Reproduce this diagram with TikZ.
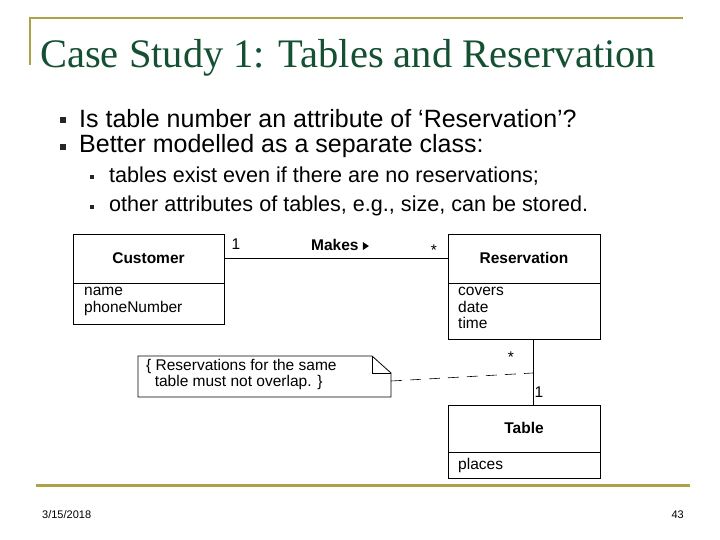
\documentclass[tikz,border=0pt]{standalone}
\usepackage{fontspec}
\setmainfont{Liberation Sans}
\newfontfamily\titlefont{Liberation Serif}
\definecolor{gold}{RGB}{176,160,72}
\definecolor{tgreen}{RGB}{20,80,50}
\begin{document}
\begin{tikzpicture}[x=1pt,y=-1pt,
  cls/.style={draw,line width=0.8pt},
  lbl/.style={font=\fontsize{15.5}{16.5}\selectfont,inner sep=0pt},
  bul/.style={fill=black!85,minimum size=4.5pt,inner sep=0pt},
  txt/.style={anchor=west,inner sep=0pt}]
\useasboundingbox (0,0) rectangle (720,540);
\fill[white] (0,0) rectangle (720,540);
\draw[gold,line width=2pt] (30,18) -- (683,18);
\draw[gold,line width=2pt] (30,17) -- (30,65);
\draw[gold,line width=3pt] (36,485) -- (690,485);
\node[txt,anchor=base west,text=tgreen,font=\titlefont\fontsize{40.5}{44}\selectfont] (title) at (40,68) {Case Study 1: Tables and Reservation};
\node[bul,minimum size=6pt] (b1) at (63,120) {};
\node[txt,font=\fontsize{25}{28}\selectfont] (t1) at (79,119) {Is table number an attribute of ‘Reservation’?};
\node[bul,minimum size=6pt] (b2) at (63,147) {};
\node[txt,font=\fontsize{25}{28}\selectfont] (t2) at (79,146) {Better modelled as a separate class:};
\node[bul] (b3) at (92,177) {};
\node[txt,font=\fontsize{21.6}{24}\selectfont] (t3) at (109,176) {tables exist even if there are no reservations;};
\node[bul] (b4) at (92,207) {};
\node[txt,font=\fontsize{21.6}{24}\selectfont] (t4) at (109,206) {other attributes of tables, e.g., size, can be stored.};
% Customer
\draw[cls] (73,234) rectangle (224,324); \draw[cls] (73,283) -- (224,283);
\node[lbl,font=\bfseries\fontsize{15.5}{16.5}\selectfont] (cn) at (148.5,258) {Customer};
\node[lbl,anchor=north west,align=left] (ca) at (84,287) {name\\phoneNumber};
\coordinate (ce) at (224,258);
% Reservation
\draw[cls] (448,234) rectangle (600,339); \draw[cls] (448,283) -- (600,283);
\node[lbl,font=\bfseries\fontsize{15.5}{16.5}\selectfont] (rn) at (524,258) {Reservation};
\node[lbl,anchor=north west,align=left] (ra) at (458,287) {covers\\date\\time};
\coordinate (rw) at (448,258);
\coordinate (rs) at (533,339);
% Table
\draw[cls] (448,405) rectangle (600,478); \draw[cls] (448,452) -- (600,452);
\node[lbl,font=\bfseries\fontsize{15.5}{16.5}\selectfont] (tn) at (524,428) {Table};
\node[lbl,anchor=west] (ta) at (458,465) {places};
\coordinate (tt) at (533,405);
\draw[line width=0.6pt] (ce) -- (rw);
\draw[line width=0.6pt] (rs) -- (tt);
\node[lbl] (m1) at (236,244) {1};
\node[lbl,font=\bfseries\fontsize{15.5}{16.5}\selectfont] (mk) at (340,245) {Makes \raisebox{0.5pt}{\tikz\fill (0,0)--(0,8pt)--(6pt,4pt)--cycle;}};
\node[lbl] (m2) at (434,250) {*};
\node[lbl] (m3) at (511,357) {*};
\node[lbl] (m4) at (539,392) {1};
% note
\draw[cls] (138,356) -- (372,356) -- (391,373) -- (391,397) -- (138,397) -- cycle;
\draw[line width=0.5pt] (372,356) -- (372,373) -- (391,373);
\node[lbl,anchor=north west,align=left] (nt) at (146,359) {\{ Reservations for the same\\\ \ table must not overlap. \}};
\coordinate (ne) at (391,381);
\coordinate (nd) at (533,373);
\draw[dashed,dash pattern=on 11pt off 8pt,line width=0.6pt] (ne) -- (nd);
\node[txt,font=\fontsize{11}{13}\selectfont] (date) at (42,515) {3/15/2018};
\node[txt,anchor=east,font=\fontsize{11}{13}\selectfont] (pg) at (684,515) {43};
\end{tikzpicture}
\end{document}
